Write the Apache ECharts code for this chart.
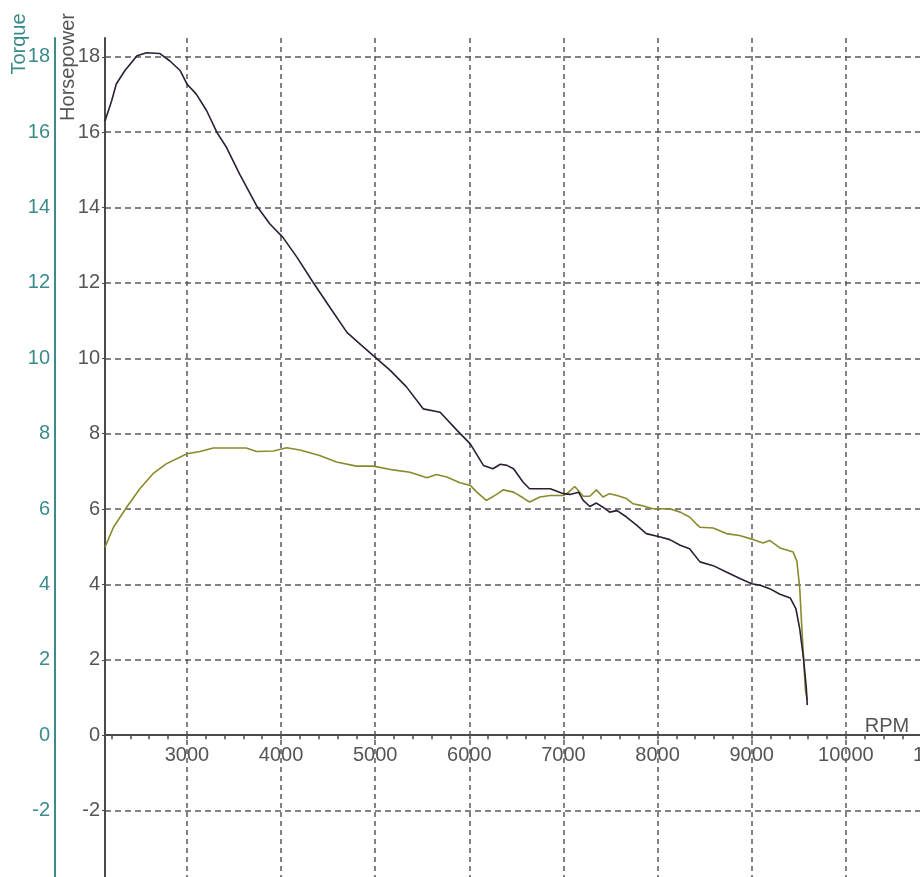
<!DOCTYPE html>
<html><head><meta charset="utf-8">
<script src="https://cdn.jsdelivr.net/npm/echarts@6/dist/echarts.min.js"></script>
<style>html,body{margin:0;padding:0;background:#fff}#c{width:920px;height:877px}</style>
</head><body><div id="c"></div>
<script>
// Dark curve (Torque axis)
const torqueRpm = [2130,2200,2250,2340,2470,2570,2710,2820,2930,3000,3100,3210,3320,3420,3560,3740,3880,4020,4170,4340,4520,4700,4840,4980,5160,5330,5510,5690,5870,6010,6150,6250,6330,6400,6470,6570,6640,6860,7000,7070,7160,7210,7280,7350,7420,7490,7570,7670,7780,7880,8030,8130,8240,8340,8450,8590,8730,8880,9000,9090,9190,9300,9410,9470,9510,9550,9580,9590];
const torqueVals = [16.30,16.83,17.28,17.63,18.03,18.11,18.09,17.89,17.63,17.28,17.01,16.57,15.99,15.60,14.89,14.05,13.57,13.21,12.68,12.02,11.35,10.69,10.38,10.07,9.68,9.25,8.66,8.57,8.09,7.73,7.16,7.07,7.19,7.16,7.07,6.72,6.54,6.54,6.41,6.39,6.45,6.23,6.07,6.16,6.05,5.92,5.96,5.79,5.57,5.35,5.26,5.19,5.04,4.95,4.60,4.50,4.33,4.15,4.02,3.98,3.89,3.74,3.64,3.35,2.82,2.04,1.25,0.80];
// Olive curve (Horsepower axis)
const hpRpm = [2130,2220,2360,2500,2640,2780,3000,3140,3280,3490,3630,3740,3920,4060,4200,4410,4590,4800,4980,5190,5370,5550,5650,5760,5900,6010,6080,6180,6290,6360,6470,6570,6640,6750,6860,7000,7040,7120,7210,7280,7350,7420,7490,7570,7670,7740,7820,7950,8130,8240,8340,8410,8450,8590,8730,8870,9020,9120,9190,9300,9440,9480,9510,9530,9550,9570,9590];
const hpVals = [4.99,5.52,6.05,6.54,6.94,7.20,7.47,7.53,7.62,7.62,7.62,7.53,7.54,7.63,7.57,7.42,7.25,7.14,7.14,7.04,6.98,6.83,6.92,6.85,6.70,6.63,6.45,6.23,6.39,6.51,6.45,6.30,6.19,6.32,6.36,6.36,6.42,6.60,6.34,6.34,6.51,6.32,6.41,6.36,6.28,6.14,6.10,6.01,6.01,5.92,5.79,5.61,5.52,5.50,5.35,5.30,5.19,5.10,5.17,4.97,4.86,4.62,3.90,2.96,2.08,1.20,0.93];
// Axis ticks
const xLabelValues = [3000,4000,5000,6000,7000,8000,9000,10000,11000];
const xTickValues = [2200,2400,2600,2800,3000,3200,3400,3600,3800,4000,4200,4400,4600,4800,5000,5200,5400,5600,5800,6000,6200,6400,6600,6800,7000,7200,7400,7600,7800,8000,8200,8400,8600,8800,9000,9200,9400,9600,9800,10000,10200,10400,10600,10800];
const yMin = -4, yMax = 18.5, yStep = 2;

const FONT = '"Liberation Sans", Arial, sans-serif';
const GRAY = '#4a4a4a', LABEL = '#555555', TEAL = '#3b8b8b';
const pairs = (xs, ys) => xs.map((x, i) => [x, ys[i]]);

const chart = echarts.init(document.getElementById('c'), null, {renderer: 'canvas'});
chart.setOption({
  animation: false,
  backgroundColor: '#ffffff',
  grid: [
    {left: 105, right: -20, top: 38, bottom: -9, containLabel: false, outerBoundsMode: 'none'},
    // label strip whose bottom edge sits on the zero line
    {left: 105, right: -20, top: 38, bottom: 142, containLabel: false, outerBoundsMode: 'none'}
  ],
  xAxis: [
    {
      type: 'value', gridIndex: 0, min: 2130, max: 11000, position: 'bottom',
      axisLine: {show: true, onZero: true, lineStyle: {color: GRAY, width: 2}},
      axisTick: {show: true, customValues: xLabelValues, length: 4, inside: false, lineStyle: {color: GRAY, width: 1.5}},
      axisLabel: {show: false},
      splitLine: {show: true, lineStyle: {type: [5, 4], color: '#5a5a5a', width: 1.5}}
    },
    {
      type: 'value', gridIndex: 0, min: 2130, max: 11000, position: 'bottom',
      axisLine: {show: false, onZero: true},
      axisTick: {show: true, customValues: xTickValues, length: 4, inside: false, lineStyle: {color: GRAY, width: 1.5}},
      axisLabel: {show: false},
      splitLine: {show: false}
    },
    {
      type: 'value', gridIndex: 1, min: 2130, max: 11000, position: 'bottom',
      axisLine: {show: false, onZero: false},
      axisTick: {show: false, customValues: xLabelValues},
      axisLabel: {customValues: xLabelValues, fontSize: 20, fontFamily: FONT, color: LABEL, margin: 10,
                  formatter: v => String(v)},
      splitLine: {show: false}
    }
  ],
  yAxis: [
    {
      type: 'value', gridIndex: 0, min: yMin, max: yMax, interval: yStep, position: 'left',
      axisLine: {show: true, onZero: false, lineStyle: {color: GRAY, width: 2}},
      axisTick: {show: true, length: 3, lineStyle: {color: GRAY}},
      axisLabel: {fontSize: 20, fontFamily: FONT, color: LABEL, margin: 5, showMaxLabel: false},
      splitLine: {show: true, showMaxLine: false, lineStyle: {type: [6, 4], color: '#5a5a5a', width: 1.5}}
    },
    {
      type: 'value', gridIndex: 0, min: yMin, max: yMax, interval: yStep, position: 'left', offset: 50,
      axisLine: {show: true, onZero: false, lineStyle: {color: TEAL, width: 2}},
      axisTick: {show: false},
      axisLabel: {fontSize: 20, fontFamily: FONT, color: TEAL, margin: 5, showMaxLabel: false},
      splitLine: {show: false}
    },
    {
      type: 'value', gridIndex: 1, min: 0, max: 1, show: false
    }
  ],
  series: [
    {
      name: 'Horsepower', type: 'line', xAxisIndex: 0, yAxisIndex: 0, data: pairs(hpRpm, hpVals),
      showSymbol: false, symbol: 'none', lineStyle: {color: '#8a8a2c', width: 1.6}, z: 3
    },
    {
      name: 'Torque', type: 'line', xAxisIndex: 0, yAxisIndex: 1, data: pairs(torqueRpm, torqueVals),
      showSymbol: false, symbol: 'none', lineStyle: {color: '#2b1f36', width: 1.6}, z: 4
    }
  ],
  graphic: [
    {type: 'text', x: 19, y: 44, rotation: Math.PI / 2,
     style: {text: 'Torque', fill: TEAL, fontSize: 20, fontFamily: FONT, textAlign: 'center', textVerticalAlign: 'middle', verticalAlign: 'middle'}},
    {type: 'text', x: 68, y: 67, rotation: Math.PI / 2,
     style: {text: 'Horsepower', fill: LABEL, fontSize: 20, fontFamily: FONT, textAlign: 'center', textVerticalAlign: 'middle', verticalAlign: 'middle'}},
    {type: 'text', x: 887, y: 726,
     style: {text: 'RPM', fill: LABEL, fontSize: 20, fontFamily: FONT, textAlign: 'center', textVerticalAlign: 'middle', verticalAlign: 'middle'}}
  ]
});
</script></body></html>
